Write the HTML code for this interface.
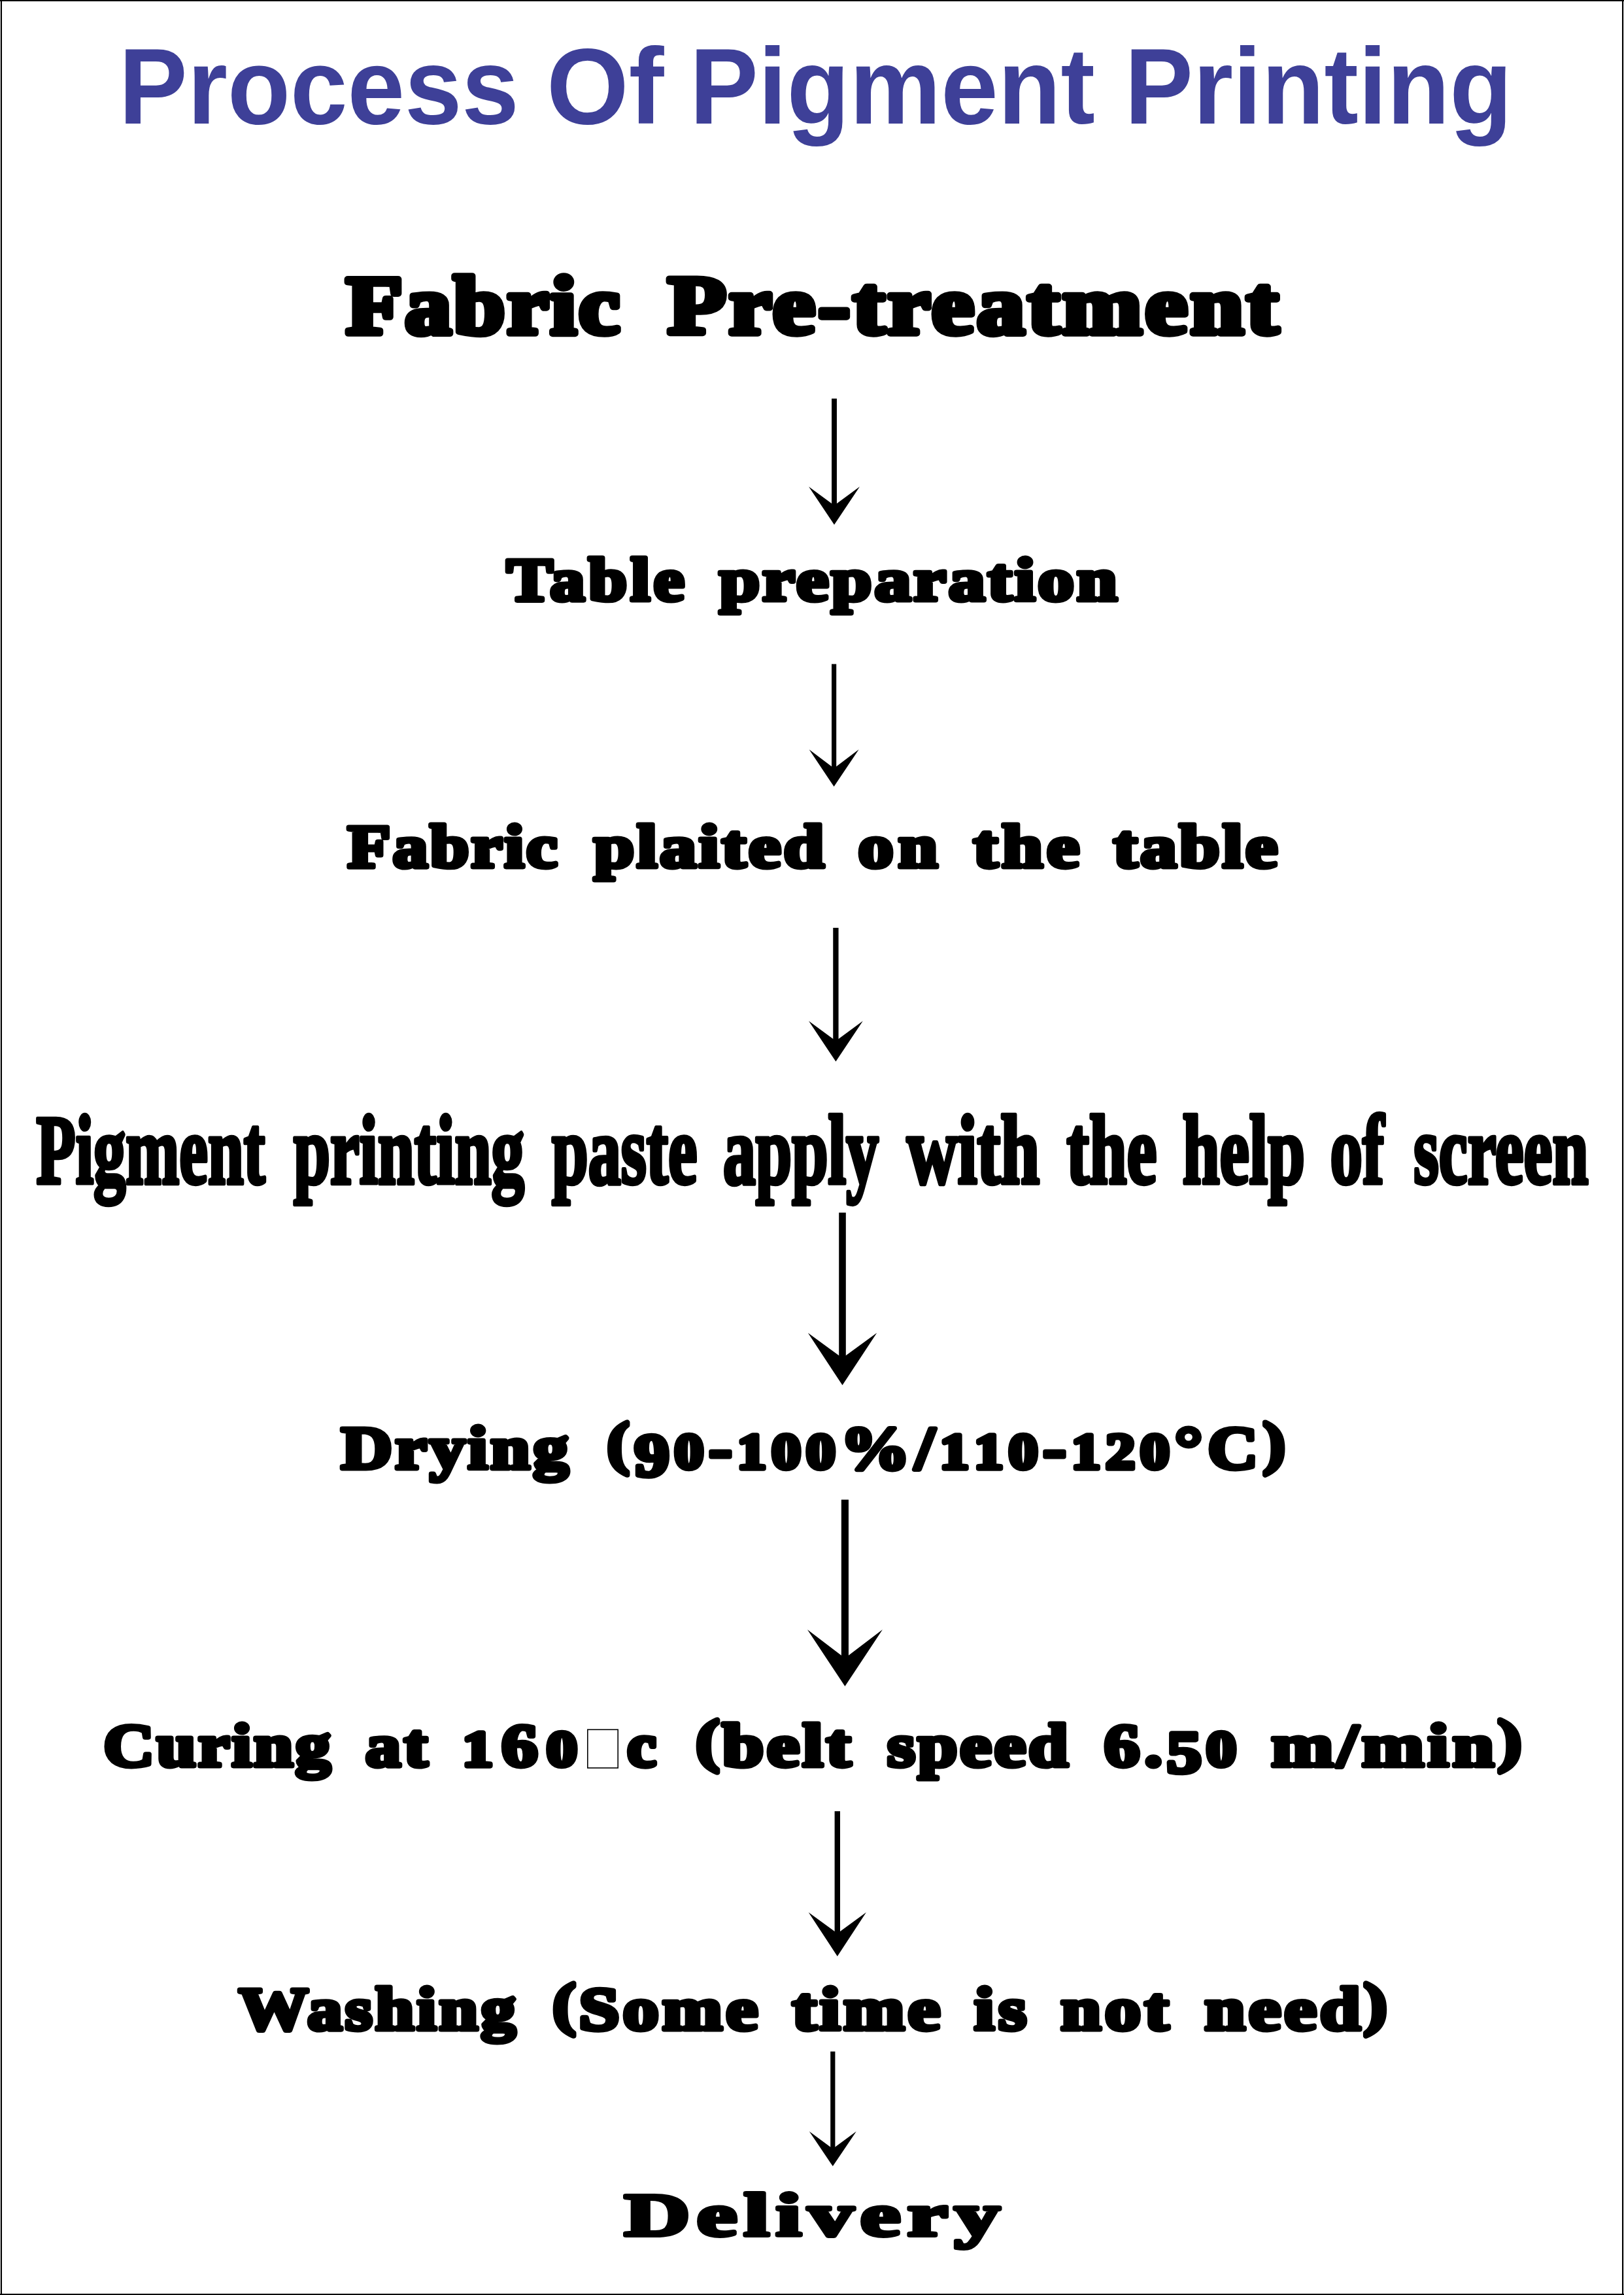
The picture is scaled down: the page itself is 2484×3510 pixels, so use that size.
<!DOCTYPE html>
<html><head><meta charset="utf-8"><style>
html,body{margin:0;padding:0;background:#fff;}
body{width:2484px;height:3510px;overflow:hidden;position:relative;font-family:"Liberation Serif",serif;}
svg{position:absolute;left:0;top:0;display:block;}
</style></head><body>
<svg width="2484" height="3510" viewBox="0 0 2484 3510">
<g shape-rendering="crispEdges"><rect x="0" y="0" width="1" height="3510" fill="#dcdcdc"/><rect x="2483" y="0" width="1" height="3510" fill="#d6d6d6"/><rect x="0" y="0" width="2484" height="2" fill="#000"/><rect x="1" y="0" width="2" height="3510" fill="#000"/><rect x="2481" y="0" width="2" height="3510" fill="#000"/><rect x="0" y="3508" width="2484" height="2" fill="#000"/></g>
<text x="181.80" y="189.00" font-family="Liberation Sans" font-weight="bold" font-size="164.99" fill="#3e4098" textLength="612.03" lengthAdjust="spacingAndGlyphs">Process</text>
<text x="836.12" y="189.00" font-family="Liberation Sans" font-weight="bold" font-size="164.99" fill="#3e4098" textLength="179.31" lengthAdjust="spacingAndGlyphs">Of</text>
<text x="1055.06" y="189.00" font-family="Liberation Sans" font-weight="bold" font-size="164.99" fill="#3e4098" textLength="619.87" lengthAdjust="spacingAndGlyphs">Pigment</text>
<text x="1720.23" y="189.00" font-family="Liberation Sans" font-weight="bold" font-size="164.99" fill="#3e4098" textLength="592.98" lengthAdjust="spacingAndGlyphs">Printing</text>
<text transform="translate(529.59 509.88) scale(1.1177 1)" x="0" y="0" font-family="Liberation Serif" font-weight="bold" font-size="126.41" fill="#000" textLength="374.21" lengthAdjust="spacing" stroke="#000" stroke-width="10.23" stroke-linejoin="round" vector-effect="non-scaling-stroke">Fabric</text>
<text transform="translate(1021.48 509.88) scale(1.1537 1)" x="0" y="0" font-family="Liberation Serif" font-weight="bold" font-size="126.41" fill="#000" textLength="809.45" lengthAdjust="spacing" stroke="#000" stroke-width="10.23" stroke-linejoin="round" vector-effect="non-scaling-stroke">Pre-treatment</text>
<text transform="translate(775.07 918.21) scale(1.1262 1)" x="0" y="0" font-family="Liberation Serif" font-weight="bold" font-size="93.79" fill="#000" textLength="241.18" lengthAdjust="spacing" stroke="#000" stroke-width="7.59" stroke-linejoin="round" vector-effect="non-scaling-stroke">Table</text>
<text transform="translate(1100.29 918.21) scale(1.1860 1)" x="0" y="0" font-family="Liberation Serif" font-weight="bold" font-size="93.79" fill="#000" textLength="513.22" lengthAdjust="spacing" stroke="#000" stroke-width="7.59" stroke-linejoin="round" vector-effect="non-scaling-stroke">preparation</text>
<text transform="translate(531.87 1326.20) scale(1.1422 1)" x="0" y="0" font-family="Liberation Serif" font-weight="bold" font-size="93.79" fill="#000" textLength="280.69" lengthAdjust="spacing" stroke="#000" stroke-width="7.59" stroke-linejoin="round" vector-effect="non-scaling-stroke">Fabric</text>
<text transform="translate(908.29 1326.20) scale(1.1876 1)" x="0" y="0" font-family="Liberation Serif" font-weight="bold" font-size="93.79" fill="#000" textLength="296.55" lengthAdjust="spacing" stroke="#000" stroke-width="7.59" stroke-linejoin="round" vector-effect="non-scaling-stroke">plaited</text>
<text transform="translate(1312.44 1326.20) scale(1.1539 1)" x="0" y="0" font-family="Liberation Serif" font-weight="bold" font-size="93.79" fill="#000" textLength="105.57" lengthAdjust="spacing" stroke="#000" stroke-width="7.59" stroke-linejoin="round" vector-effect="non-scaling-stroke">on</text>
<text transform="translate(1488.85 1326.20) scale(1.2031 1)" x="0" y="0" font-family="Liberation Serif" font-weight="bold" font-size="93.79" fill="#000" textLength="134.88" lengthAdjust="spacing" stroke="#000" stroke-width="7.59" stroke-linejoin="round" vector-effect="non-scaling-stroke">the</text>
<text transform="translate(1702.89 1326.20) scale(1.1819 1)" x="0" y="0" font-family="Liberation Serif" font-weight="bold" font-size="93.79" fill="#000" textLength="212.70" lengthAdjust="spacing" stroke="#000" stroke-width="7.59" stroke-linejoin="round" vector-effect="non-scaling-stroke">table</text>
<text x="55.57" y="1809.75" font-family="Liberation Serif" font-weight="bold" font-size="150.43" fill="#000" textLength="349.86" lengthAdjust="spacingAndGlyphs" stroke="#000" stroke-width="6.50" stroke-linejoin="round" vector-effect="non-scaling-stroke">Pigment</text>
<text x="448.97" y="1809.75" font-family="Liberation Serif" font-weight="bold" font-size="150.43" fill="#000" textLength="352.91" lengthAdjust="spacingAndGlyphs" stroke="#000" stroke-width="6.50" stroke-linejoin="round" vector-effect="non-scaling-stroke">printing</text>
<text x="843.98" y="1809.75" font-family="Liberation Serif" font-weight="bold" font-size="150.43" fill="#000" textLength="222.54" lengthAdjust="spacingAndGlyphs" stroke="#000" stroke-width="6.50" stroke-linejoin="round" vector-effect="non-scaling-stroke">paste</text>
<text x="1106.04" y="1809.75" font-family="Liberation Serif" font-weight="bold" font-size="150.43" fill="#000" textLength="237.88" lengthAdjust="spacingAndGlyphs" stroke="#000" stroke-width="6.50" stroke-linejoin="round" vector-effect="non-scaling-stroke">apply</text>
<text x="1386.93" y="1809.75" font-family="Liberation Serif" font-weight="bold" font-size="150.43" fill="#000" textLength="203.29" lengthAdjust="spacingAndGlyphs" stroke="#000" stroke-width="6.50" stroke-linejoin="round" vector-effect="non-scaling-stroke">with</text>
<text x="1631.58" y="1809.75" font-family="Liberation Serif" font-weight="bold" font-size="150.43" fill="#000" textLength="137.87" lengthAdjust="spacingAndGlyphs" stroke="#000" stroke-width="6.50" stroke-linejoin="round" vector-effect="non-scaling-stroke">the</text>
<text x="1808.71" y="1809.75" font-family="Liberation Serif" font-weight="bold" font-size="150.43" fill="#000" textLength="187.27" lengthAdjust="spacingAndGlyphs" stroke="#000" stroke-width="6.50" stroke-linejoin="round" vector-effect="non-scaling-stroke">help</text>
<text x="2034.48" y="1809.75" font-family="Liberation Serif" font-weight="bold" font-size="150.43" fill="#000" textLength="82.52" lengthAdjust="spacingAndGlyphs" stroke="#000" stroke-width="6.50" stroke-linejoin="round" vector-effect="non-scaling-stroke">of</text>
<text x="2162.28" y="1809.75" font-family="Liberation Serif" font-weight="bold" font-size="150.43" fill="#000" textLength="267.22" lengthAdjust="spacingAndGlyphs" stroke="#000" stroke-width="6.50" stroke-linejoin="round" vector-effect="non-scaling-stroke">screen</text>
<text transform="translate(521.71 2246.26) scale(1.1755 1)" x="0" y="0" font-family="Liberation Serif" font-weight="bold" font-size="92.43" fill="#000" textLength="295.86" lengthAdjust="spacing" stroke="#000" stroke-width="7.48" stroke-linejoin="round" vector-effect="non-scaling-stroke">Drying</text>
<text transform="translate(928.80 2246.26) scale(1.1514 1)" x="0" y="0" font-family="Liberation Serif" font-weight="bold" font-size="92.43" fill="#000" textLength="900.49" lengthAdjust="spacing" stroke="#000" stroke-width="7.48" stroke-linejoin="round" vector-effect="non-scaling-stroke"><tspan font-size="87.81" dy="-9.24">(</tspan><tspan dy="20.33">9</tspan><tspan font-size="77.64" dy="-11.09">0</tspan>-<tspan font-size="77.64">1</tspan><tspan font-size="77.64">0</tspan><tspan font-size="77.64">0</tspan>%/<tspan font-size="77.64">1</tspan><tspan font-size="77.64">1</tspan><tspan font-size="77.64">0</tspan>-<tspan font-size="77.64">1</tspan><tspan font-size="77.64">2</tspan><tspan font-size="77.64">0</tspan>°C<tspan font-size="87.81" dy="-9.24">)</tspan></text>
<text transform="translate(158.24 2701.20) scale(1.1486 1)" x="0" y="0" font-family="Liberation Serif" font-weight="bold" font-size="93.79" fill="#000" textLength="302.52" lengthAdjust="spacing" stroke="#000" stroke-width="7.59" stroke-linejoin="round" vector-effect="non-scaling-stroke">Curing</text>
<text transform="translate(559.12 2701.20) scale(1.1508 1)" x="0" y="0" font-family="Liberation Serif" font-weight="bold" font-size="93.79" fill="#000" textLength="82.51" lengthAdjust="spacing" stroke="#000" stroke-width="7.59" stroke-linejoin="round" vector-effect="non-scaling-stroke">at</text>
<text transform="translate(707.27 2701.20) scale(1.1878 1)" x="0" y="0" font-family="Liberation Serif" font-weight="bold" font-size="93.79" fill="#000" textLength="147.67" lengthAdjust="spacing" stroke="#000" stroke-width="7.59" stroke-linejoin="round" vector-effect="non-scaling-stroke"><tspan font-size="78.78">1</tspan>6<tspan font-size="78.78">0</tspan></text>
<text transform="translate(959.27 2701.20) scale(1.0693 1)" x="0" y="0" font-family="Liberation Serif" font-weight="bold" font-size="93.79" fill="#000" textLength="60.14" lengthAdjust="spacing" stroke="#000" stroke-width="7.59" stroke-linejoin="round" vector-effect="non-scaling-stroke">c</text>
<text transform="translate(1064.46 2701.20) scale(1.2063 1)" x="0" y="0" font-family="Liberation Serif" font-weight="bold" font-size="93.79" fill="#000" textLength="196.49" lengthAdjust="spacing" stroke="#000" stroke-width="7.59" stroke-linejoin="round" vector-effect="non-scaling-stroke"><tspan font-size="89.10" dy="-9.38">(</tspan><tspan dy="9.38">b</tspan>elt</text>
<text transform="translate(1357.29 2701.20) scale(1.1636 1)" x="0" y="0" font-family="Liberation Serif" font-weight="bold" font-size="93.79" fill="#000" textLength="237.57" lengthAdjust="spacing" stroke="#000" stroke-width="7.59" stroke-linejoin="round" vector-effect="non-scaling-stroke">speed</text>
<text transform="translate(1688.83 2701.20) scale(1.1658 1)" x="0" y="0" font-family="Liberation Serif" font-weight="bold" font-size="93.79" fill="#000" textLength="173.28" lengthAdjust="spacing" stroke="#000" stroke-width="7.59" stroke-linejoin="round" vector-effect="non-scaling-stroke">6.<tspan font-size="90.97" dy="9.38">5</tspan><tspan font-size="78.78" dy="-9.38">0</tspan></text>
<text transform="translate(1944.49 2701.20) scale(1.2183 1)" x="0" y="0" font-family="Liberation Serif" font-weight="bold" font-size="93.79" fill="#000" textLength="314.16" lengthAdjust="spacing" stroke="#000" stroke-width="7.59" stroke-linejoin="round" vector-effect="non-scaling-stroke">m/min<tspan font-size="89.10" dy="-9.38">)</tspan></text>
<text transform="translate(365.21 3104.20) scale(1.1346 1)" x="0" y="0" font-family="Liberation Serif" font-weight="bold" font-size="93.79" fill="#000" textLength="373.34" lengthAdjust="spacing" stroke="#000" stroke-width="7.59" stroke-linejoin="round" vector-effect="non-scaling-stroke">Washing</text>
<text transform="translate(845.62 3104.20) scale(1.1782 1)" x="0" y="0" font-family="Liberation Serif" font-weight="bold" font-size="93.79" fill="#000" textLength="266.24" lengthAdjust="spacing" stroke="#000" stroke-width="7.59" stroke-linejoin="round" vector-effect="non-scaling-stroke"><tspan font-size="89.10" dy="-9.38">(</tspan><tspan dy="9.38">S</tspan>ome</text>
<text transform="translate(1211.86 3104.20) scale(1.1949 1)" x="0" y="0" font-family="Liberation Serif" font-weight="bold" font-size="93.79" fill="#000" textLength="189.42" lengthAdjust="spacing" stroke="#000" stroke-width="7.59" stroke-linejoin="round" vector-effect="non-scaling-stroke">time</text>
<text transform="translate(1490.23 3104.20) scale(1.1724 1)" x="0" y="0" font-family="Liberation Serif" font-weight="bold" font-size="93.79" fill="#000" textLength="68.15" lengthAdjust="spacing" stroke="#000" stroke-width="7.59" stroke-linejoin="round" vector-effect="non-scaling-stroke">is</text>
<text transform="translate(1622.62 3104.20) scale(1.1818 1)" x="0" y="0" font-family="Liberation Serif" font-weight="bold" font-size="93.79" fill="#000" textLength="139.70" lengthAdjust="spacing" stroke="#000" stroke-width="7.59" stroke-linejoin="round" vector-effect="non-scaling-stroke">not</text>
<text transform="translate(1842.59 3104.20) scale(1.1919 1)" x="0" y="0" font-family="Liberation Serif" font-weight="bold" font-size="93.79" fill="#000" textLength="233.90" lengthAdjust="spacing" stroke="#000" stroke-width="7.59" stroke-linejoin="round" vector-effect="non-scaling-stroke">need<tspan font-size="89.10" dy="-9.38">)</tspan></text>
<text transform="translate(955.01 3419.20) scale(1.4818 1)" x="0" y="0" font-family="Liberation Serif" font-weight="bold" font-size="93.79" fill="#000" textLength="387.69" lengthAdjust="spacing" stroke="#000" stroke-width="7.59" stroke-linejoin="round" vector-effect="non-scaling-stroke">Delivery</text>
<rect x="1272.05" y="609.60" width="7.90" height="165.40" fill="#000"/>
<polygon points="1237.00,744.20 1276.00,773.00 1315.00,744.20 1276.00,802.60" fill="#000"/>
<rect x="1272.00" y="1015.60" width="7.20" height="161.40" fill="#000"/>
<polygon points="1237.60,1146.30 1275.60,1175.00 1313.60,1146.30 1275.60,1203.10" fill="#000"/>
<rect x="1274.25" y="1419.00" width="8.30" height="175.00" fill="#000"/>
<polygon points="1237.00,1561.50 1278.40,1592.00 1319.80,1561.50 1278.40,1623.60" fill="#000"/>
<rect x="1283.20" y="1854.60" width="10.60" height="224.40" fill="#000"/>
<polygon points="1235.80,2038.60 1288.50,2077.00 1341.20,2038.60 1288.50,2118.50" fill="#000"/>
<rect x="1286.85" y="2293.60" width="11.10" height="244.40" fill="#000"/>
<polygon points="1234.90,2492.30 1292.40,2536.00 1349.90,2492.30 1292.40,2579.10" fill="#000"/>
<rect x="1276.60" y="2770.10" width="8.40" height="188.90" fill="#000"/>
<polygon points="1236.70,2924.70 1280.80,2957.00 1324.90,2924.70 1280.80,2991.90" fill="#000"/>
<rect x="1270.20" y="3137.60" width="7.20" height="150.70" fill="#000"/>
<polygon points="1237.80,3259.70 1273.80,3286.30 1309.80,3259.70 1273.80,3313.10" fill="#000"/>
<rect x="898.8" y="2645.3" width="46.4" height="58.6" fill="none" stroke="#000" stroke-width="1.6"/>
</svg>
</body></html>
